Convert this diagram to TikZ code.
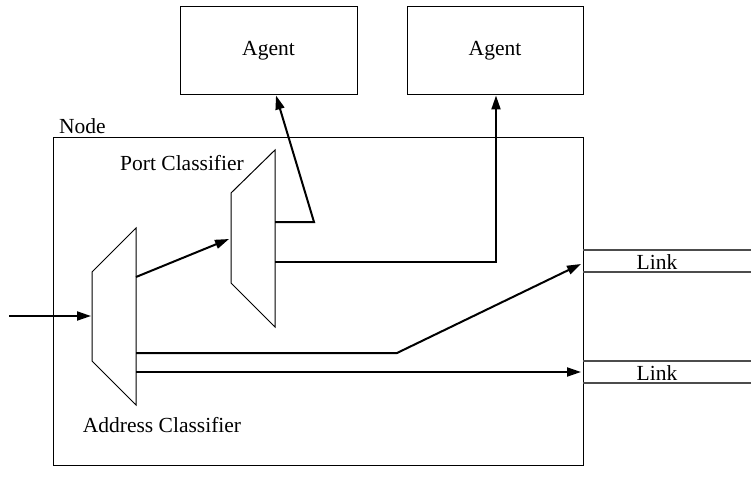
\documentclass[tikz,border=0pt]{standalone}
\usepackage{fontspec}
\setmainfont{Liberation Serif}
\usetikzlibrary{arrows.meta}
\begin{document}
\begin{tikzpicture}[x=1pt,y=-1pt,
  every node/.style={font=\fontsize{21.5}{24}\selectfont, inner sep=0pt},
  box/.style={draw, line width=1pt},
  conn/.style={line width=2pt, -{Triangle[length=14pt,width=9pt]}},
  wire/.style={line width=2pt},
  linkline/.style={draw=black!70, line width=1.2pt}]
\useasboundingbox (0,0) rectangle (751,494);
% agents
\node[box, minimum width=177pt, minimum height=88pt] (agent1) at (268.5,51) {Agent};
\node[box, minimum width=176pt, minimum height=88pt] (agent2) at (495,51) {Agent};
% node box
\draw[line width=1pt] (53,138) rectangle (583,465);
\node[anchor=west] (nodelbl) at (59,126) {Node};
% address classifier
\coordinate (a1) at (92,272); \coordinate (a2) at (136,228);
\coordinate (a3) at (136,405); \coordinate (a4) at (92,361);
\draw[line width=1pt] (a1) -- (a2) -- (a3) -- (a4) -- cycle;
\node (addrlbl) at (162,425) {Address Classifier};
% port classifier
\coordinate (p1) at (231,193); \coordinate (p2) at (275,150);
\coordinate (p3) at (275,327); \coordinate (p4) at (231,283);
\draw[line width=1pt] (p1) -- (p2) -- (p3) -- (p4) -- cycle;
\node (portlbl) at (182,163) {Port Classifier};
% links
\coordinate (l1a) at (583,250); \coordinate (l1b) at (751,250);
\coordinate (l1c) at (583,272); \coordinate (l1d) at (751,272);
\coordinate (l2a) at (583,361); \coordinate (l2b) at (751,361);
\coordinate (l2c) at (583,383); \coordinate (l2d) at (751,383);
\draw[linkline] (l1a) -- (l1b) (l1c) -- (l1d) (l2a) -- (l2b) (l2c) -- (l2d);
\node (link1) at (657,262) {Link};
\node (link2) at (657,373) {Link};
% connectors
\coordinate (in) at (9,316);
\draw[conn] (in) -- (91,316);
\draw[conn] (136,277) -- (229,239);
\coordinate (bend1) at (314,222);
\draw[conn] (275,222) -- (bend1) -- (agent1.south -| 276,0);
\coordinate (bend2) at (496,262);
\draw[conn] (275,262) -- (bend2) -- (agent2.south -| 496,0);
\coordinate (bend3) at (397,353);
\draw[conn] (136,353) -- (bend3) -- (581,264);
\draw[conn] (136,372) -- (581,372);
\end{tikzpicture}
\end{document}
